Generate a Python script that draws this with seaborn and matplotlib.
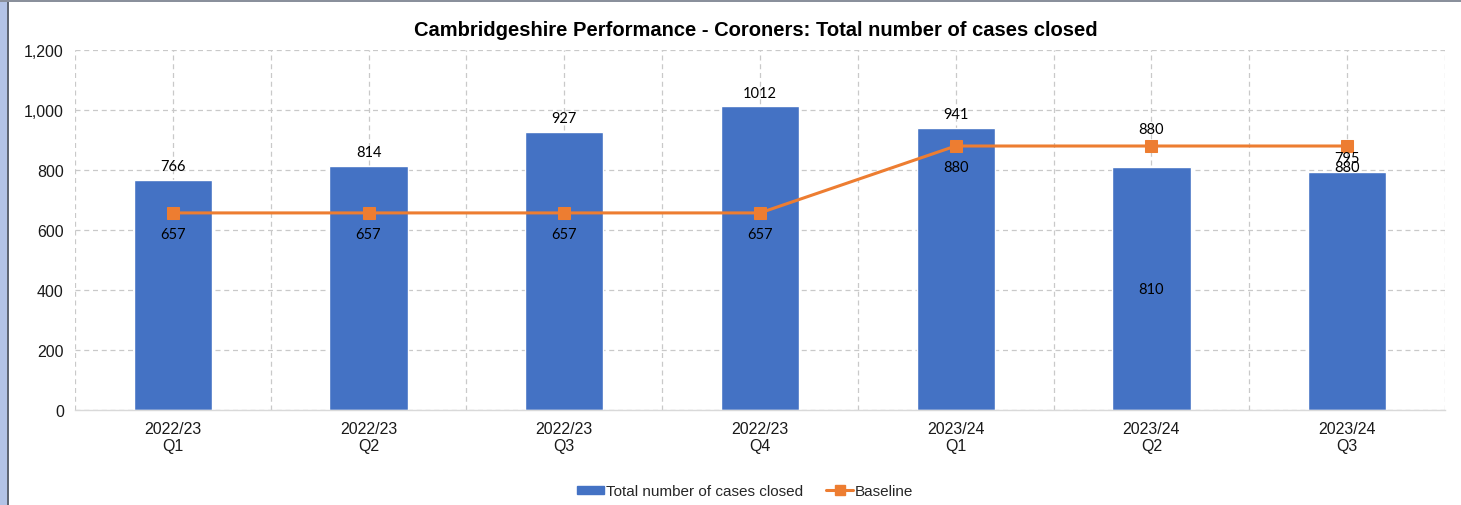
import matplotlib
matplotlib.use("Agg")
import matplotlib.pyplot as plt
import seaborn as sns
import numpy as np
import pandas as pd
from matplotlib.patches import Rectangle
from matplotlib.lines import Line2D
from matplotlib.patches import Patch

# Quarterly figures
quarters = ["2022/23\nQ1", "2022/23\nQ2", "2022/23\nQ3", "2022/23\nQ4",
            "2023/24\nQ1", "2023/24\nQ2", "2023/24\nQ3"]
cases_closed = [766, 814, 927, 1012, 941, 810, 795]
baseline = [657, 657, 657, 657, 880, 880, 880]

BAR_COLOR = "#4472C4"
LINE_COLOR = "#ED7D31"
GRID_COLOR = "#c9c9c9"

sns.set_theme(style="white")
plt.rcParams["font.family"] = ["Liberation Sans", "DejaVu Sans"]

fig = plt.figure(figsize=(14.61, 5.06), dpi=100)
ax = fig.add_axes([0.0513, 0.1877, 0.9377, 0.7115])

df = pd.DataFrame({"quarter": quarters, "cases": cases_closed, "baseline": baseline})
sns.barplot(data=df, x="quarter", y="cases", color=BAR_COLOR, width=0.4,
            saturation=1, ax=ax, zorder=2)

pos = np.arange(len(quarters))
sns.lineplot(x=pos, y=df["baseline"], color=LINE_COLOR, linewidth=2.2,
             marker="s", markersize=8, markeredgecolor=LINE_COLOR, ax=ax, zorder=3)

ax.set_xlim(-0.5, len(quarters) - 0.5)
ax.set_ylim(0, 1200)
ax.set_yticks(range(0, 1201, 200))
ax.set_yticklabels([f"{v:,}" for v in range(0, 1201, 200)])
ax.set_xticks(pos)
ax.set_xticklabels(quarters, linespacing=1.15)
ax.set_xticks(np.arange(-0.5, len(quarters), 1.0), minor=True)
ax.set_xlabel("")
ax.set_ylabel("")

ax.grid(True, which="major", axis="both", color=GRID_COLOR, linestyle=(0, (4, 3)), linewidth=0.9, zorder=0)
ax.grid(True, which="minor", axis="x", color=GRID_COLOR, linestyle=(0, (4, 3)), linewidth=0.9, zorder=0)
ax.set_axisbelow(True)
ax.tick_params(axis="both", which="both", length=0, labelsize=11.5, colors="#1a1a1a")
ax.tick_params(axis="y", pad=8)
ax.tick_params(axis="x", pad=8)
for side in ["left", "top", "right"]:
    ax.spines[side].set_visible(False)
ax.spines["bottom"].set_color("#d9d9d9")
ax.spines["bottom"].set_linewidth(1.0)

fig.text(756 / 1461, 1 - 30 / 506,
         "Cambridgeshire Performance - Coroners: Total number of cases closed",
         fontsize=14.5, fontweight="bold", color="#000000", ha="center", va="center")

label_font = dict(fontsize=10.5, family=["Lato", "DejaVu Sans"], color="#000000",
                  ha="center", va="center")

# Data labels for the bars
for i, v in enumerate(cases_closed):
    if i == 5:
        ax.text(i, v / 2, f"{v}", **label_font, zorder=5)
    else:
        ax.annotate(f"{v}", (i, v), xytext=(0, 10), textcoords="offset points",
                    **label_font, zorder=5)

# Data labels for the baseline
for i, v in enumerate(baseline):
    dy = 12.5 if i == 5 else -15
    ax.annotate(f"{v}", (i, v), xytext=(0, dy), textcoords="offset points",
                **label_font, zorder=5)

handles = [Patch(facecolor=BAR_COLOR, edgecolor=BAR_COLOR),
           Line2D([0], [0], color=LINE_COLOR, linewidth=2.2, marker="s", markersize=7)]
fig.legend(handles, ["Total number of cases closed", "Baseline"], loc="center",
           bbox_to_anchor=(0.51, 0.027), ncol=2, frameon=False, fontsize=11,
           handlelength=1.8, handletextpad=0.1, columnspacing=1.5,
           handleheight=0.5)

# Window frame around the chart
fig.patches.append(Rectangle((0, 0), 7 / 1461, 1, transform=fig.transFigure,
                             facecolor="#b3c3e6", edgecolor="none", zorder=10))
fig.patches.append(Rectangle((7 / 1461, 0), 1.5 / 1461, 1, transform=fig.transFigure,
                             facecolor="#5f6673", edgecolor="none", zorder=10))
fig.patches.append(Rectangle((0, 1 - 3 / 506), 1, 3 / 506, transform=fig.transFigure,
                             facecolor="#8a909c", edgecolor="none", zorder=10))

fig.savefig("out.png", dpi=100)
